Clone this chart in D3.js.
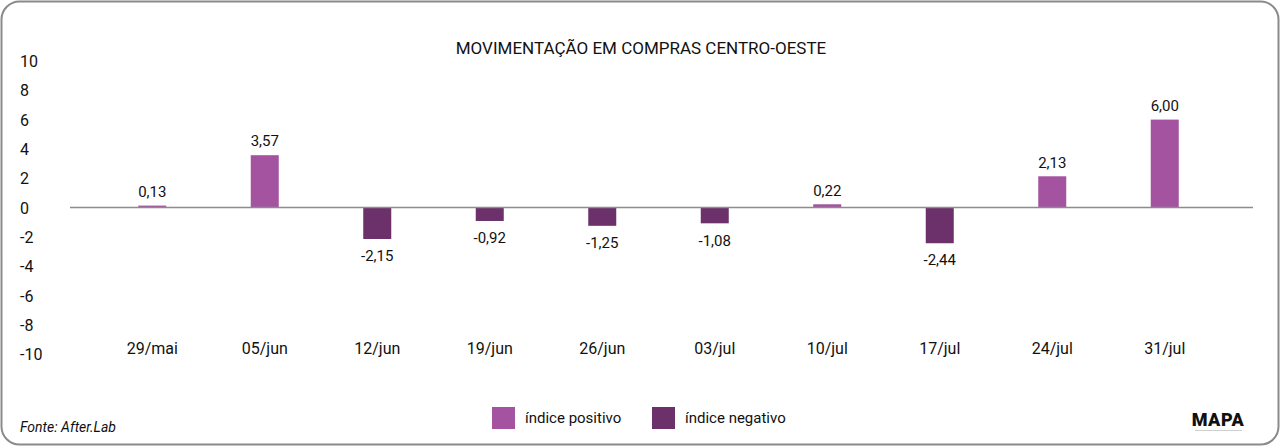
<!DOCTYPE html>
<html>
<head>
<meta charset="utf-8">
<script src="https://cdn.jsdelivr.net/npm/d3@7"></script>
<style>
  html, body { margin: 0; padding: 0; background: #fff; }
  svg { display: block; font-family: Roboto, "Noto Sans", sans-serif; }
</style>
</head>
<body>
<svg id="chart" width="1280" height="447"></svg>
<script>
// chart data
const categories = ["29/mai", "05/jun", "12/jun", "19/jun", "26/jun", "03/jul", "10/jul", "17/jul", "24/jul", "31/jul"];
const values = [0.13, 3.57, -2.15, -0.92, -1.25, -1.08, 0.22, -2.44, 2.13, 6.00];
const yTicks = [10, 8, 6, 4, 2, 0, -2, -4, -6, -8, -10];
const legendLabels = ["índice positivo", "índice negativo"];

const width = 1280, height = 447;
const colorPos = "#a453a0";
const colorNeg = "#6c316a";
const barWidth = 28;

const svg = d3.select("#chart");

// frame
svg.append("rect")
  .attr("x", 1.5).attr("y", 1.5)
  .attr("width", width - 3).attr("height", height - 4)
  .attr("rx", 18).attr("ry", 18)
  .attr("fill", "#fff")
  .attr("stroke", "#8a8a8a")
  .attr("stroke-width", 2);

// title
svg.append("text")
  .attr("x", 641).attr("y", 54)
  .attr("text-anchor", "middle")
  .style("font-size", "17px")
  .style("fill", "#111")
  .text("MOVIMENTAÇÃO EM COMPRAS CENTRO-OESTE");

const xScale = d3.scaleBand()
  .domain(categories)
  .range([96, 1221]);

const yScale = d3.scaleLinear()
  .domain([-10, 10])
  .range([354, 61]);

// y axis labels (no line), plain hyphen for negatives
const yAxis = d3.axisLeft(yScale).tickValues(yTicks).tickSize(0).tickFormat(d => String(d));
const gy = svg.append("g").attr("transform", "translate(20,0)").call(yAxis);
gy.select(".domain").remove();
gy.selectAll("text")
  .attr("x", 0).attr("dy", "0.35em")
  .attr("text-anchor", "start")
  .style("font-size", "16px")
  .style("font-family", "Roboto, sans-serif")
  .style("fill", "#111");

// bars
svg.append("g")
  .selectAll("rect")
  .data(values)
  .join("rect")
  .attr("x", (d, i) => xScale(categories[i]) + xScale.bandwidth() / 2 - barWidth / 2)
  .attr("y", d => yScale(Math.max(0, d)))
  .attr("width", barWidth)
  .attr("height", d => Math.abs(yScale(d) - yScale(0)))
  .attr("fill", d => d >= 0 ? colorPos : colorNeg);

// zero line
svg.append("line")
  .attr("x1", 70).attr("x2", 1253)
  .attr("y1", yScale(0)).attr("y2", yScale(0))
  .attr("stroke", "#8c8c8c")
  .attr("stroke-width", 1.5);

// value labels
const fmt = d => d3.format(".2f")(d).replace(".", ",").replace("−", "-");
svg.append("g")
  .selectAll("text")
  .data(values)
  .join("text")
  .attr("x", (d, i) => xScale(categories[i]) + xScale.bandwidth() / 2)
  .attr("y", d => d >= 0 ? yScale(d) - 14 : yScale(d) + 17)
  .attr("dy", "0.35em")
  .attr("text-anchor", "middle")
  .style("font-size", "15px")
  .style("fill", "#111")
  .text(fmt);

// category labels
const xAxis = d3.axisBottom(xScale).tickSize(0);
const gx = svg.append("g").attr("transform", "translate(0,348)").call(xAxis);
gx.select(".domain").remove();
gx.selectAll("text")
  .attr("y", 0).attr("dy", "0.35em")
  .style("font-size", "16px")
  .style("font-family", "Roboto, sans-serif")
  .style("fill", "#111");

// legend
const legendX = [492, 652];
const legend = svg.append("g")
  .selectAll("g")
  .data(legendLabels)
  .join("g")
  .attr("transform", (d, i) => `translate(${legendX[i]},407)`);
legend.append("rect")
  .attr("width", 23).attr("height", 22)
  .attr("fill", (d, i) => i === 0 ? colorPos : colorNeg);
legend.append("text")
  .attr("x", 33).attr("y", 11)
  .attr("dy", "0.35em")
  .style("font-size", "15px")
  .style("fill", "#111")
  .text(d => d);

// source
svg.append("text")
  .attr("x", 20).attr("y", 427)
  .attr("dy", "0.35em")
  .style("font-size", "14px")
  .style("font-style", "italic")
  .style("fill", "#111")
  .text("Fonte: After.Lab");

// logo
svg.append("text")
  .attr("x", 1218).attr("y", 426)
  .attr("text-anchor", "middle")
  .style("font-size", "18px")
  .style("font-weight", "900")
  .style("letter-spacing", "0.5px")
  .style("fill", "#111")
  .text("MAPA");
svg.append("line")
  .attr("x1", 1195).attr("x2", 1242)
  .attr("y1", 430.5).attr("y2", 430.5)
  .attr("stroke", "#cfcfcf")
  .attr("stroke-width", 1);
</script>
</body>
</html>
